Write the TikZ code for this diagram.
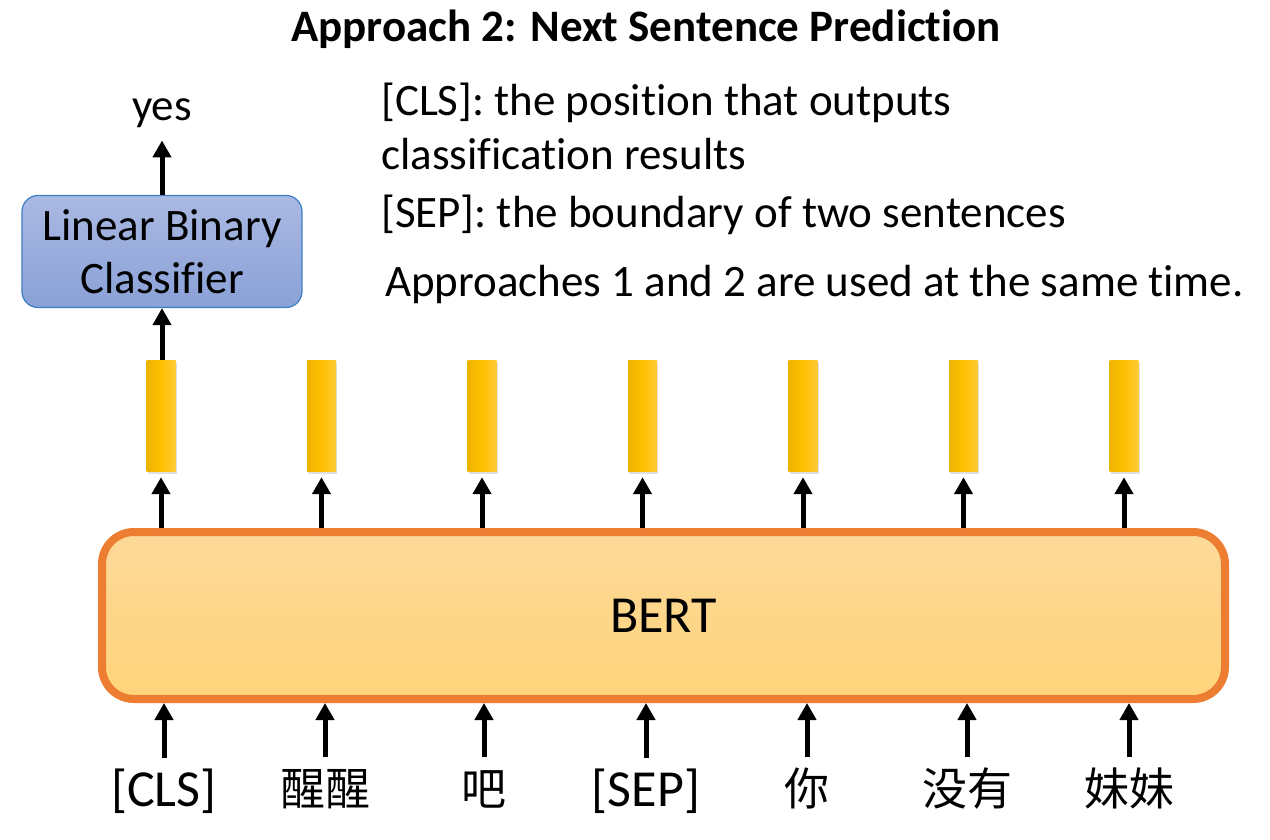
\documentclass[tikz,border=0pt]{standalone}
\usepackage{fontspec}
\setmainfont{Carlito}[Ligatures=CommonOff]
\newfontfamily\cjk{Noto Sans CJK TC}
\usetikzlibrary{arrows.meta,shadows}
\definecolor{clsTop}{HTML}{AAB9E2}
\definecolor{clsBot}{HTML}{8AA1D7}
\definecolor{clsLine}{HTML}{3D7FC4}
\definecolor{bertLine}{HTML}{ED7D31}
\definecolor{bertTop}{HTML}{FDD99A}
\definecolor{bertBot}{HTML}{FFD47A}
\definecolor{barL}{HTML}{EDB400}
\definecolor{barM}{HTML}{FFC000}
\definecolor{barR}{HTML}{FFCB38}
\begin{document}
\begin{tikzpicture}[x=1pt,y=-1pt,
  arr/.style={line width=5pt,-{Triangle[width=18pt,length=17pt]}},
  barbox/.style={minimum width=29pt,minimum height=111pt,inner sep=0pt,
    left color=barL,right color=barR,middle color=barM,
    drop shadow={opacity=0.25,shadow xshift=1pt,shadow yshift=-3pt}},
  clsbox/.style={rounded corners=16pt,draw=clsLine,line width=1.2pt,
    top color=clsTop,bottom color=clsBot,minimum width=280pt,minimum height=112pt,
    align=center,inner sep=0pt,font=\fontsize{45}{53}\selectfont},
  bertbox/.style={rounded corners=32pt,draw=bertLine,line width=8pt,
    top color=bertTop,bottom color=bertBot,minimum width=1123pt,minimum height=167pt,
    inner sep=0pt,font=\fontsize{52}{52}\selectfont},
  note/.style={anchor=base west,inner sep=0pt,font=\fontsize{45}{45}\selectfont},
  tok/.style={anchor=base,inner sep=0pt,text height=48pt,font=\fontsize{52}{52}\selectfont},
  cjktok/.style={tok,font=\cjk\fontsize{45}{45}\selectfont}
]
\useasboundingbox (0,0) rectangle (1270,840);

\node[anchor=base,inner sep=0pt,font=\bfseries\fontsize{45}{45}\selectfont] (title) at (646,42) {Approach 2: Next Sentence Prediction};

\node[note] (n1) at (381,116) {[CLS]: the position that outputs};
\node[note] (n2) at (381,170) {classification results};
\node[note] (n3) at (381,228) {[SEP]: the boundary of two sentences};
\node[note] (n4) at (385,296) {Approaches 1 and 2 are used at the same time.};

\node[anchor=base,inner sep=2pt,font=\fontsize{45}{45}\selectfont] (yes) at (162,121) {yes};
\node[clsbox] (lbc) at (162,251.5) {Linear Binary\\Classifier};

\node[bertbox] (bert) at (663.5,615.5) {BERT};

\foreach \i/\x in {1/161,2/321.5,3/482,4/642.5,5/803,6/963.5,7/1124}{
  \node[barbox] (b\i) at (\x,415.5) {};
  \draw[arr,shorten >=6pt] (bert.north -| b\i) -- (b\i.south);
}

\draw[arr] (lbc.south |- b1.north) -- (lbc.south);
\draw[arr,shorten >=10pt] (lbc.north) -- (yes.south);

\node[tok] (t1) at (164,806) {[CLS]};
\node[cjktok] (t2) at (325,805) {醒醒};
\node[cjktok] (t3) at (484,805) {吧};
\node[tok] (t4) at (646,806) {[SEP]};
\node[cjktok] (t5) at (807,805) {你};
\node[cjktok] (t6) at (967,805) {没有};
\node[cjktok] (t7) at (1129,805) {妹妹};

\foreach \i in {1,...,7}{
  \draw[arr] (t\i.north) -- (t\i.north |- bert.south);
}
\end{tikzpicture}
\end{document}
